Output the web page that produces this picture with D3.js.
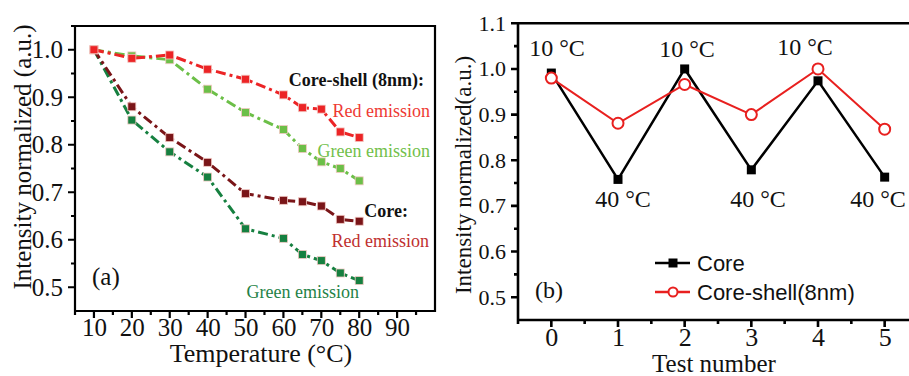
<!DOCTYPE html>
<html>
<head>
<meta charset="utf-8">
<script src="https://cdn.jsdelivr.net/npm/d3@7"></script>
<style>
  body { margin: 0; background: #fff; }
  svg { display: block; }
  text { font-family: "Liberation Serif", "Times New Roman", serif; }
</style>
</head>
<body>
<div id="chart"></div>
<script>
// ---- panel (a) data ----
const temps = [10, 20, 30, 40, 50, 60, 65, 70, 75, 80];
const shellRed = [1.0, 0.982, 0.989, 0.959, 0.938, 0.905, 0.878, 0.875, 0.827, 0.815];
const shellGreen = [1.0, 0.987, 0.979, 0.917, 0.868, 0.832, 0.792, 0.764, 0.750, 0.724];
const coreRed = [1.0, 0.880, 0.815, 0.763, 0.697, 0.683, 0.680, 0.671, 0.643, 0.639];
const coreGreen = [1.0, 0.852, 0.785, 0.732, 0.623, 0.603, 0.569, 0.556, 0.530, 0.514];
const tempTicks = [10, 20, 30, 40, 50, 60, 70, 80, 90];
const aYTicks = [0.5, 0.6, 0.7, 0.8, 0.9, 1.0];

// ---- panel (b) data ----
const tests = [0, 1, 2, 3, 4, 5];
const coreCycle = [0.991, 0.758, 1.0, 0.779, 0.974, 0.763];
const shellCycle = [0.980, 0.881, 0.966, 0.900, 1.0, 0.868];
const tempLabels = ["10 °C", "40 °C", "10 °C", "40 °C", "10 °C", "40 °C"];
const bYTicks = [0.5, 0.6, 0.7, 0.8, 0.9, 1.0, 1.1];

const W = 909, H = 376;
const svg = d3.select("#chart").append("svg")
    .attr("width", W).attr("height", H);

// frame + tick marks as one path through the scales, labels from d3.axis
function drawAxes(g, x, y, xMajor, xMinor, yMajor, yMinor, sizes, fmtX, fmtY) {
    const [x0, x1] = x.range(), [y0, y1] = [y.range()[1], y.range()[0]];
    const p = d3.path();
    p.moveTo(x0, y0); p.lineTo(x1, y0); p.lineTo(x1, y1); p.lineTo(x0, y1); p.closePath();
    xMajor.forEach(v => { p.moveTo(x(v), y1); p.lineTo(x(v), y1 + 7); });
    xMinor.forEach(v => { p.moveTo(x(v), y1); p.lineTo(x(v), y1 + 4); });
    yMajor.forEach(v => { p.moveTo(x0, y(v)); p.lineTo(x0 - 7, y(v)); });
    yMinor.forEach(v => { p.moveTo(x0, y(v)); p.lineTo(x0 - 4, y(v)); });
    g.append("path")
        .attr("d", p.toString())
        .attr("fill", "none")
        .attr("stroke", "#000")
        .attr("stroke-width", sizes.stroke);

    const b = g.append("g").attr("transform", `translate(0,${y1})`)
        .call(d3.axisBottom(x).tickValues(xMajor).tickSize(7).tickSizeOuter(0).tickFormat(fmtX));
    b.select(".domain").remove();
    b.selectAll("line").remove();
    b.selectAll("text").style("font-size", sizes.xFont + "px").attr("fill", "#111").attr("dy", "0.6em");

    const l = g.append("g").attr("transform", `translate(${x0},0)`)
        .call(d3.axisLeft(y).tickValues(yMajor).tickSize(7).tickSizeOuter(0).tickFormat(fmtY));
    l.select(".domain").remove();
    l.selectAll("line").remove();
    l.selectAll("text").style("font-size", sizes.yFont + "px").attr("fill", "#111").attr("dx", "-2px");
}

// ================= Panel (a) =================
const ax = d3.scaleLinear().domain([5, 100]).range([75, 435]);
const ay = d3.scaleLinear().domain([0.45, 1.05]).range([311, 26]);

const gA = svg.append("g");

const seriesA = [
    { name: "coreGreen", vals: coreGreen, color: "#168040" },
    { name: "coreRed", vals: coreRed, color: "#7a1518" },
    { name: "shellGreen", vals: shellGreen, color: "#6cbf48" },
    { name: "shellRed", vals: shellRed, color: "#ec2426" }
];

const lineA = d3.line().x(d => ax(d[0])).y(d => ay(d[1]));
seriesA.forEach(s => {
    const pts = temps.map((t, i) => [t, s.vals[i]]);
    gA.append("path")
        .datum(pts)
        .attr("d", lineA)
        .attr("fill", "none")
        .attr("stroke", s.color)
        .attr("stroke-width", 3)
        .attr("stroke-dasharray", "10,4,3,4");
    gA.selectAll(".m-" + s.name)
        .data(pts)
        .enter()
        .append("rect")
        .attr("x", d => ax(d[0]) - 4)
        .attr("y", d => ay(d[1]) - 4)
        .attr("width", 8).attr("height", 8)
        .attr("fill", s.color)
        .attr("stroke", "#f3c9c4")
        .attr("stroke-width", 0.8);
});

drawAxes(gA, ax, ay, tempTicks, d3.range(5, 100, 10), aYTicks,
    [0.55, 0.65, 0.75, 0.85, 0.95, 1.05], { stroke: 2.2, xFont: 25, yFont: 25 },
    d3.format("d"), d3.format(".1f"));

// annotations
const annA = [
    { t: "Core-shell (8nm):", x: 424, y: 86, c: "#111", b: true },
    { t: "Red emission", x: 430, y: 117, c: "#ee3a33" },
    { t: "Green emission", x: 430, y: 157, c: "#72c04a" },
    { t: "Core:", x: 408, y: 217, c: "#111", b: true },
    { t: "Red emission", x: 429, y: 247, c: "#c0302f" },
    { t: "Green emission", x: 359, y: 298, c: "#1f8247" }
];
annA.forEach(a => {
    gA.append("text")
        .attr("x", a.x).attr("y", a.y)
        .attr("text-anchor", "end")
        .style("font-size", "18px")
        .style("font-weight", a.b ? 700 : 400)
        .attr("fill", a.c)
        .text(a.t);
});
gA.append("text").attr("x", 92).attr("y", 285)
    .style("font-size", "25px").attr("fill", "#111").text("(a)");

gA.append("text")
    .attr("x", 261).attr("y", 362)
    .attr("text-anchor", "middle")
    .style("font-size", "26px").attr("fill", "#111")
    .text("Temperature (°C)");
gA.append("text")
    .attr("transform", "translate(31,157) rotate(-90)")
    .attr("text-anchor", "middle")
    .style("font-size", "25px").attr("fill", "#111")
    .text("Intensity normalized (a.u.)");

// ================= Panel (b) =================
const bx = d3.scaleLinear().domain([-0.5, 5.5]).range([518, 918]);
const by = d3.scaleLinear().domain([0.45, 1.1]).range([320, 23.3]);

const gB = svg.append("g");

const lineB = d3.line().x(d => bx(d[0])).y(d => by(d[1]));
const corePts = tests.map((t, i) => [t, coreCycle[i]]);
const shellPts = tests.map((t, i) => [t, shellCycle[i]]);

gB.append("path").datum(corePts).attr("d", lineB)
    .attr("fill", "none").attr("stroke", "#000").attr("stroke-width", 2.5);
gB.selectAll(".core-m").data(corePts).enter().append("rect")
    .attr("x", d => bx(d[0]) - 4.5).attr("y", d => by(d[1]) - 4.5)
    .attr("width", 9).attr("height", 9).attr("fill", "#000");

gB.append("path").datum(shellPts).attr("d", lineB)
    .attr("fill", "none").attr("stroke", "#e8201f").attr("stroke-width", 2);
gB.selectAll(".shell-m").data(shellPts).enter().append("circle")
    .attr("cx", d => bx(d[0])).attr("cy", d => by(d[1])).attr("r", 5.5)
    .attr("fill", "#fff").attr("stroke", "#e8201f").attr("stroke-width", 2);

drawAxes(gB, bx, by, tests, [-0.5, 0.5, 1.5, 2.5, 3.5, 4.5], bYTicks,
    [0.55, 0.65, 0.75, 0.85, 0.95, 1.05], { stroke: 2.6, xFont: 26, yFont: 22 },
    d3.format("d"), d3.format(".1f"));

// temperature labels
const labelPos = [[557, 56], [623, 207], [687, 57], [758, 207], [805, 55], [878, 207]];
tempLabels.forEach((t, i) => {
    gB.append("text")
        .attr("x", labelPos[i][0]).attr("y", labelPos[i][1])
        .attr("text-anchor", "middle")
        .style("font-size", "24px").attr("fill", "#111")
        .text(t);
});

gB.append("text").attr("x", 535).attr("y", 298)
    .style("font-size", "24px").attr("fill", "#111").text("(b)");

// legend
const legend = [
    { name: "Core", y: 263, color: "#000", sym: "square" },
    { name: "Core-shell(8nm)", y: 292, color: "#e8201f", sym: "circle" }
];
legend.forEach(l => {
    gB.append("line").attr("x1", 655).attr("x2", 690).attr("y1", l.y).attr("y2", l.y)
        .attr("stroke", l.color).attr("stroke-width", 2.5);
    if (l.sym === "square") {
        gB.append("rect").attr("x", 668.5).attr("y", l.y - 4.5).attr("width", 9).attr("height", 9).attr("fill", "#000");
    } else {
        gB.append("circle").attr("cx", 673).attr("cy", l.y).attr("r", 4.5)
            .attr("fill", "#fff").attr("stroke", l.color).attr("stroke-width", 2);
    }
    gB.append("text").attr("x", 697).attr("y", l.y + 8)
        .style("font-family", "Liberation Sans, Arial, sans-serif")
        .style("font-size", "22px").attr("fill", "#111")
        .text(l.name);
});

gB.append("text")
    .attr("x", 714).attr("y", 372)
    .attr("text-anchor", "middle")
    .style("font-size", "25px").attr("fill", "#111")
    .text("Test number");
gB.append("text")
    .attr("transform", "translate(471,175) rotate(-90)")
    .attr("text-anchor", "middle")
    .style("font-size", "23px").attr("fill", "#111")
    .text("Intensity normalized(a.u.)");
</script>
</body>
</html>
